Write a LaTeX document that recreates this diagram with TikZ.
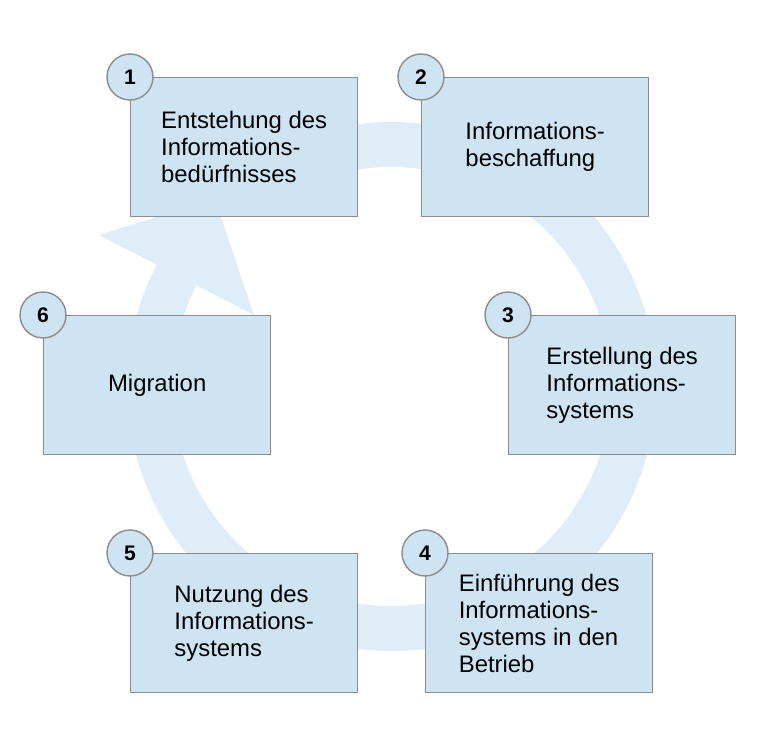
\documentclass[tikz,border=0pt]{standalone}
\usepackage{fontspec}
\setmainfont{Liberation Sans}
\usepackage{tikz}
\usetikzlibrary{positioning}

\definecolor{boxblue}{HTML}{CFE4F3}
\definecolor{ringblue}{HTML}{DFEDF8}
\definecolor{framegray}{HTML}{8C8C8C}

\tikzset{
  phase/.style={draw=framegray, line width=0.8pt, fill=boxblue, anchor=north west,
    minimum width=4.54cm, minimum height=2.78cm, align=left,
    font=\fontsize{13.6}{15.4}\selectfont},
  num/.style={circle, draw=framegray, line width=0.8pt, fill=boxblue,
    minimum size=0.92cm, inner sep=0pt, font=\fontsize{12}{14}\selectfont\bfseries}
}

\begin{document}
\begin{tikzpicture}[x=0.02cm, y=-0.02cm]
\useasboundingbox (0,0) rectangle (767,753);

% Cycle ring with arrow head
\coordinate (ctr) at (391.5,386.5);
\draw[ringblue, line width=0.9cm] (ctr) ++(235:242) arc[start angle=235, end angle=567.4, radius=242];
\fill[ringblue] (99,235) -- (254,315) -- (215,199) -- cycle;

% Phase 1
\node[phase] (entstehung) at (130,77) {Entstehung des\\Informations-\\bedürfnisses};
\node[num] (n1) at (entstehung.north west) {1};

% Phase 2
\node[phase] (beschaffung) at (421,77) {Informations-\\beschaffung};
\node[num] (n2) at (beschaffung.north west) {2};

% Phase 3
\node[phase] (erstellung) at (508,315) {Erstellung des\\Informations-\\systems};
\node[num] (n3) at (erstellung.north west) {3};

% Phase 4
\node[phase] (einfuehrung) at (425,553) {Einführung des\\Informations-\\systems in den\\Betrieb};
\node[num] (n4) at (einfuehrung.north west) {4};

% Phase 5
\node[phase] (nutzung) at (130,553) {Nutzung des\\Informations-\\systems};
\node[num] (n5) at (nutzung.north west) {5};

% Phase 6
\node[phase] (migration) at (43,315) {Migration};
\node[num] (n6) at (migration.north west) {6};
\end{tikzpicture}
\end{document}
